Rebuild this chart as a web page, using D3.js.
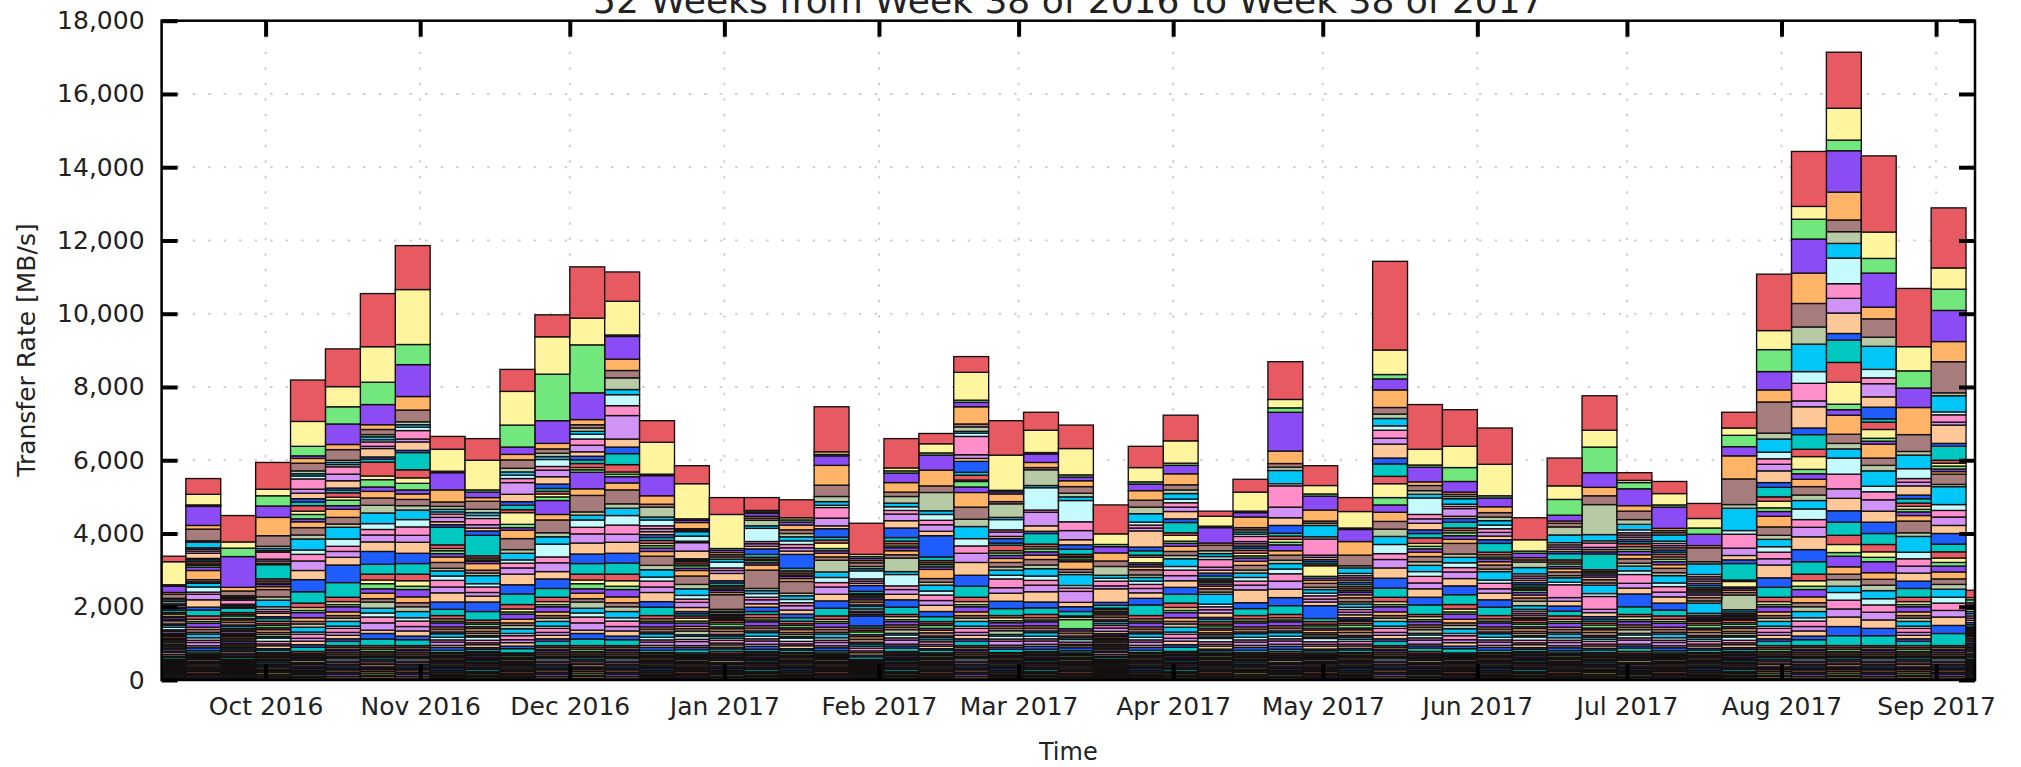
<!DOCTYPE html>
<html>
<head>
<meta charset="utf-8">
<script src="https://cdn.jsdelivr.net/npm/d3@7"></script>
<style>
  html, body { margin: 0; padding: 0; background: #ffffff; }
  svg { display: block; }
  text { font-family: "DejaVu Sans", "Liberation Sans", sans-serif; fill: #222; }
</style>
</head>
<body>
<svg id="chart" width="2021" height="767"></svg>
<script>
// ---- chart data -------------------------------------------------------
const chartTitle = "52 Weeks from Week 38 of 2016 to Week 38 of 2017";
const yLabel = "Transfer Rate [MB/s]";
const xLabel = "Time";
const yTickValues = [0, 2000, 4000, 6000, 8000, 10000, 12000, 14000, 16000, 18000];
const monthTicks = ["2016-10-01", "2016-11-01", "2016-12-01", "2017-01-01", "2017-02-01", "2017-03-01",
                    "2017-04-01", "2017-05-01", "2017-06-01", "2017-07-01", "2017-08-01", "2017-09-01"];

// bar start dates (one bar per week)
const weekStarts = [
  "2016-09-08", "2016-09-15", "2016-09-22", "2016-09-29", "2016-10-06", "2016-10-13", "2016-10-20", "2016-10-27",
  "2016-11-03", "2016-11-10", "2016-11-17", "2016-11-24", "2016-12-01", "2016-12-08", "2016-12-15", "2016-12-22",
  "2016-12-29", "2017-01-05", "2017-01-12", "2017-01-19", "2017-01-26", "2017-02-02", "2017-02-09", "2017-02-16",
  "2017-02-23", "2017-03-02", "2017-03-09", "2017-03-16", "2017-03-23", "2017-03-30", "2017-04-06", "2017-04-13",
  "2017-04-20", "2017-04-27", "2017-05-04", "2017-05-11", "2017-05-18", "2017-05-25", "2017-06-01", "2017-06-08",
  "2017-06-15", "2017-06-22", "2017-06-29", "2017-07-06", "2017-07-13", "2017-07-20", "2017-07-27", "2017-08-03",
  "2017-08-10", "2017-08-17", "2017-08-24", "2017-08-31", "2017-09-07"
];

// per-week transfer rates of each destination, largest destination first (MB/s)
const week00 = [150,630,40,170,50,110,40,50,60,40,50,40,50,60, 40,60,30,50,40,90,30,60,70,40,50,35,30,30, 50,35,40,45,50,40,45,35,50,40,55,45,40,50, 30,25,35,30,25,30,20,35,25,30,30,25,35,30,25,30,20,30,25,30];
const week01 = [430,290,40,520,100,320,40,150,40,50,60,140,40,50, 60,40,50,90,250,60,40,100,140,60,150,200,80,160, 90,60,50,110,60,80,45,100,70,60,90,55,80,60, 45,30,35,40,30,50,35,30,40,45,30,35,40,25,50,30,35,45,30,40];
const week02 = [720,170,230,840,100,130,40,40,40,110,40,40,30,120, 50,40,70,40,60,80,40,60,40,30,50,40,25,30, 50,40,45,55,40,50,35,45,40,50,45,40,35,50, 30,25,35,30,25,30,20,35,25,30,30,25,35,30,25,30,20,30,25,30];
const week03 = [730,180,280,310,500,290,60,60,40,190,50,60,40,390, 60,50,40,60,80,200,90,180,70,60,50,90,50,75, 70,45,65,50,75,55,60,40,90,70,50,80,45,60, 40,30,40,35,45,30,40,50,35,30,40,45,25,35,30,50,40,30,45,35];
const week04 = [1130,680,260,70,130,210,80,60,80,280,110,150,90,100, 150,90,120,80,160,200,110,300,120,180,260,250,330,310, 120,80,60,140,100,70,90,130,60,110,80,95,70,115, 50,40,35,45,30,40,55,30,35,45,40,30,50,35,40,30,45,35,40,30];
const week05 = [1030,550,470,560,140,290,60,60,60,200,180,200,60,70, 120,80,150,100,220,180,90,320,200,140,160,210,480,400, 120,80,60,140,100,70,90,130,60,110,80,95,70,115, 45,50,40,55,45,50,35,40,60,45,50,40,55,35,45,50,40,60,45,55];
const week06 = [1450,970,610,550,130,140,60,80,60,120,60,230,60,80, 380,100,200,120,180,200,210,290,160,150,190,260,350,270, 160,100,140,120,150,90,170,130,110,160,200,90,150,180, 55,45,60,40,50,45,35,55,40,50,45,60,40,35,50,45,55,40,50,45];
const week07 = [1200,1500,550,870,370,320,80,70,90,230,80,230,60,470, 220,150,180,110,150,170,120,260,200,230,190,300,280,290, 180,150,90,200,160,110,130,170,90,150,120,140,100,160, 45,50,40,55,45,50,35,40,60,45,50,40,55,35,45,50,40,60,45,55];
const week08 = [350,600,40,470,330,120,80,70,60,90,120,80,70,480, 100,60,80,90,150,160,70,140,120,180,160,250,200,170, 90,60,50,110,60,80,45,100,70,60,90,55,80,60, 35,45,30,40,50,30,35,25,45,40,30,35,50,40,30,45,35,40,30,40];
const week09 = [590,810,60,150,100,220,90,80,80,170,90,80,120,560, 60,50,40,60,180,80,70,220,90,150,100,160,260,235, 70,45,65,50,75,55,60,40,90,70,50,80,45,60, 30,40,35,45,30,40,35,50,30,40,45,35,30,55,40,30,45,35,40,50];
const week10 = [600,920,600,200,150,230,100,90,90,110,320,200,100,120, 80,320,90,70,230,300,100,180,90,130,170,290,250,290, 120,80,60,140,100,70,90,130,60,110,80,95,70,115, 40,30,45,35,30,50,25,40,35,30,45,40,30,35,50,30,40,35,30,45];
const week11 = [600,1020,1270,620,150,120,90,80,190,100,180,200,120,80, 70,80,100,380,150,350,110,200,350,160,240,200,260,240, 120,80,60,140,100,70,90,130,60,110,80,95,70,115, 45,50,40,55,45,50,35,40,60,45,50,40,55,35,45,50,40,60,45,55];
const week12 = [1400,730,1310,730,140,90,90,80,130,170,180,120,100,100, 110,60,70,450,180,450,90,130,200,180,250,300,260,290, 160,100,140,120,150,90,170,130,110,160,200,90,150,180, 55,45,60,40,50,45,35,55,40,50,45,60,40,35,50,45,55,40,50,45];
const week13 = [800,920,40,620,310,200,320,140,300,270,640,220,180,300, 200,60,70,170,190,380,120,200,260,250,220,300,270,300, 180,150,90,200,160,110,130,170,90,150,120,140,100,160, 45,50,40,55,45,50,35,40,60,45,50,40,55,35,45,50,40,60,45,55];
const week14 = [590,870,40,550,230,80,270,80,160,80,80,80,80,80, 80,60,70,90,130,250,120,200,110,160,150,250,150,230, 90,60,50,110,60,80,45,100,70,60,90,55,80,60, 35,45,30,40,50,30,35,25,45,40,30,35,50,40,30,45,35,40,30,40];
const week15 = [490,960,40,60,170,40,40,120,140,40,230,210,40,40, 60,50,70,60,150,230,120,180,100,90,140,110,60,60, 60,80,55,90,60,70,100,45,80,60,110,50,60,90, 45,30,35,40,30,50,35,30,40,45,30,35,40,25,50,30,35,45,30,40];
const week16 = [460,930,50,60,60,60,60,80,160,70,80,200,60,70, 40,50,40,60,60,400,50,40,50,35,40,30,25,25, 60,45,80,50,70,90,40,60,55,75,50,65,45,70, 50,40,35,45,30,40,55,30,35,45,40,30,50,35,40,30,45,35,40,30];
const week17 = [350,40,40,80,50,60,150,70,360,60,70,70,150,80, 50,40,60,60,140,500,60,80,100,70,110,90,120,80, 90,60,50,110,60,80,45,100,70,60,90,55,80,60, 30,40,35,45,30,40,35,50,30,40,45,35,30,55,40,30,45,35,40,50];
const week18 = [490,60,60,80,130,100,90,110,100,90,90,90,380,70, 60,50,40,60,80,320,70,100,90,80,120,110,100,95, 70,45,65,50,75,55,60,40,90,70,50,80,45,60, 35,45,30,40,50,30,35,25,45,40,30,35,50,40,30,45,35,40,30,40];
const week19 = [1230,70,40,260,540,310,140,100,60,290,210,80,230,80, 80,150,60,70,100,90,320,150,140,120,200,180,200,210, 90,60,50,110,60,80,45,100,70,60,90,55,80,60, 45,30,35,40,30,50,35,30,40,45,30,35,40,25,50,30,35,45,30,40];
const week20 = [850,60,50,60,60,100,60,60,220,60,60,60,160,60, 30,40,45,55,60,80,40,70,60,40,50,40,270,60, 60,45,80,50,70,90,40,60,55,75,50,65,45,70, 30,25,35,30,25,30,20,35,25,30,30,25,35,30,25,30,20,30,25,30];
const week21 = [800,80,60,260,260,120,180,100,100,100,180,200,260,100, 70,60,50,80,110,90,370,80,310,100,130,150,200,200, 60,80,55,90,60,70,100,45,80,60,110,50,60,90, 30,40,35,45,30,40,35,50,30,40,45,35,30,55,40,30,45,35,40,50];
const week22 = [280,250,60,410,430,180,500,100,160,120,180,120,580,100, 60,50,60,70,250,100,80,160,110,150,130,170,140,135, 60,45,80,50,70,90,40,60,55,75,50,65,45,70, 40,30,45,35,30,50,25,40,35,30,45,40,30,35,50,30,40,35,30,45];
const week23 = [430,760,60,120,470,80,120,50,90,500,100,80,300,80, 130,40,150,150,400,330,200,330,200,200,250,350,300,300, 120,80,60,140,100,70,90,130,60,110,80,95,70,115, 45,50,40,55,45,50,35,40,60,45,50,40,55,35,45,50,40,60,45,55];
const week24 = [940,960,40,60,210,60,370,60,280,60,120,60,120,60, 150,60,70,80,110,120,90,140,100,240,150,220,200,190, 60,80,55,90,60,70,100,45,80,60,110,50,60,90, 35,45,30,40,50,30,35,25,45,40,30,35,50,40,30,45,35,40,30,40];
const week25 = [490,610,40,230,140,60,430,60,610,60,370,150,60,290, 70,60,80,90,120,150,100,200,120,130,180,280,160,180, 90,60,50,110,60,80,45,100,70,60,90,55,80,60, 30,40,35,45,30,40,35,50,30,40,45,35,30,55,40,30,45,35,40,50];
const week26 = [640,720,60,100,160,180,100,100,580,240,250,140,120,140, 50,40,60,50,210,80,60,300,70,90,300,120,130,120, 40,60,250,60,60,80,45,50,70,60,40,55,80,60, 40,30,45,35,30,50,25,40,35,30,45,40,30,35,50,30,40,35,30,45];
const week27 = [790,290,60,170,220,150,240,80,80,130,80,370,80,80, 40,50,40,50,60,80,40,60,50,70,90,60,45,40, 50,35,40,45,50,40,45,35,50,40,55,45,40,50, 30,25,30,20,30,25,30,35,25,30,30,25,35,20,30,25,30,35,25,30];
const week28 = [580,390,60,180,260,190,180,230,80,80,80,440,100,120, 60,150,50,60,80,140,70,100,90,110,120,150,180,290, 90,60,50,110,60,80,45,100,70,60,90,55,80,60, 35,45,30,40,50,30,35,25,45,40,30,35,50,40,30,45,35,40,30,40];
const week29 = [700,610,60,230,300,140,100,150,100,120,120,200,100,280, 70,160,60,80,140,110,90,210,100,150,140,180,190,240, 120,80,60,140,100,70,90,130,60,110,80,95,70,115, 30,40,35,45,30,40,35,50,30,40,45,35,30,55,40,30,45,35,40,50];
const week30 = [140,270,40,420,60,150,80,80,80,210,80,80,80,80, 50,40,50,60,70,90,60,270,70,80,90,120,50,65, 70,45,65,50,75,55,60,40,90,70,50,80,45,60, 40,30,45,35,30,50,25,40,35,30,45,40,30,35,50,30,40,35,30,45];
const week31 = [350,520,40,120,290,60,60,60,60,140,60,60,60,60, 80,70,60,90,110,130,80,120,100,110,130,350,160,190, 90,60,50,110,60,80,45,100,70,60,90,55,80,60, 40,30,40,35,45,30,40,50,35,30,40,45,25,35,30,50,40,30,45,35];
const week32 = [1030,230,120,1060,340,100,90,360,60,580,290,210,210,80, 90,80,70,160,120,140,90,150,130,200,220,230,220,240, 90,60,50,110,60,80,45,100,70,60,90,55,80,60, 50,40,35,45,30,40,55,30,35,45,40,30,50,35,40,30,45,35,40,30];
const week33 = [540,230,60,380,300,60,60,310,60,440,60,60,60,60, 50,290,50,60,80,110,60,100,70,90,80,100,350,85, 70,45,65,50,75,55,60,40,90,70,50,80,45,60, 45,30,35,40,30,50,35,30,40,45,30,35,40,25,50,30,35,45,30,40];
const week34 = [380,450,40,330,370,290,60,150,60,60,60,60,60,60, 60,50,45,70,80,110,60,90,60,75,70,80,55,40, 60,45,80,50,70,90,40,60,55,75,50,65,45,70, 35,45,30,40,50,30,35,25,45,40,30,35,50,40,30,45,35,40,30,40];
const week35 = [2420,670,120,300,480,180,120,200,120,220,160,380,160,340, 200,380,200,200,250,210,200,220,250,160,230,280,270,250, 120,80,60,140,100,70,90,130,60,110,80,95,70,115, 45,50,40,55,45,50,35,40,60,45,50,40,55,35,45,50,40,60,45,55];
const week36 = [1220,430,60,400,100,140,100,100,450,120,120,180,100,120, 150,80,70,90,120,140,100,170,130,180,160,230,210,260, 60,80,55,90,60,70,100,45,80,60,110,50,60,90, 50,40,35,45,30,40,55,30,35,45,40,30,50,35,40,30,45,35,40,30];
const week37 = [1000,580,380,290,60,60,60,150,60,60,210,60,100,160, 70,60,80,100,110,290,90,150,130,120,180,200,240,270, 120,80,60,140,100,70,90,130,60,110,80,95,70,115, 45,30,35,40,30,50,35,30,40,45,30,35,40,25,50,30,35,45,30,40];
const week38 = [990,860,60,240,160,120,100,120,100,100,100,100,100,240, 70,60,50,80,90,110,70,230,90,150,120,180,200,230, 90,60,50,110,60,80,45,100,70,60,90,55,80,60, 35,45,30,40,50,30,35,25,45,40,30,35,50,40,30,45,35,40,30,40];
const week39 = [600,310,60,120,60,60,150,170,60,60,60,60,60,60, 50,40,60,70,80,90,120,100,50,60,50,55,40,40, 70,45,65,50,75,55,60,40,90,70,50,80,45,60, 30,40,35,45,30,40,35,50,30,40,45,35,30,55,40,30,45,35,40,50];
const week40 = [760,370,430,160,60,100,220,210,60,60,60,60,60,170, 60,50,70,60,90,100,60,120,70,350,100,130,140,130, 90,60,50,110,60,80,45,100,70,60,90,55,80,60, 40,30,45,35,30,50,25,40,35,30,45,40,30,35,50,30,40,35,30,45];
const week41 = [940,460,700,400,230,240,820,170,60,120,60,60,60,430, 50,40,50,60,70,90,60,230,80,350,90,110,70,55, 60,45,80,50,70,90,40,60,55,75,50,65,45,70, 40,30,40,35,45,30,40,50,35,30,40,45,25,35,30,50,40,30,45,35];
const week42 = [210,60,170,460,150,230,130,150,80,60,60,60,60,60, 80,70,60,90,110,120,80,130,100,240,130,160,350,210, 60,80,55,90,60,70,100,45,80,60,110,50,60,90, 50,40,35,45,30,40,55,30,35,45,40,30,50,35,40,30,45,35,40,30];
const week43 = [330,310,60,580,60,60,60,170,60,60,60,60,60,60, 70,60,70,80,100,120,80,200,100,150,130,170,190,160, 90,60,50,110,60,80,45,100,70,60,90,55,80,60, 45,30,35,40,30,50,35,30,40,45,30,35,40,25,50,30,35,45,30,40];
const week44 = [410,260,170,310,60,380,60,290,60,60,60,60,60,60, 50,40,50,60,70,90,60,280,50,45,40,30,25,25, 60,45,80,50,70,90,40,60,55,75,50,65,45,70, 35,45,30,40,50,30,35,25,45,40,30,35,50,40,30,45,35,40,30,40];
const week45 = [430,200,310,250,630,700,100,610,100,380,200,120,100,450, 40,150,40,50,60,70,400,60,50,40,35,40,30,30, 70,45,65,50,75,55,60,40,90,70,50,80,45,60, 30,40,35,45,30,40,35,50,30,40,45,35,30,55,40,30,45,35,40,50];
const week46 = [1540,520,600,500,330,850,160,360,180,150,180,320,130,260, 120,180,100,130,290,230,110,200,150,180,170,350,260,270, 120,80,60,140,100,70,90,130,60,110,80,95,70,115, 55,45,60,40,50,45,35,55,40,50,45,60,40,35,50,45,55,40,50,45];
const week47 = [1500,350,540,930,830,640,470,750,320,480,160,580,180,400, 200,350,120,150,200,230,150,230,290,210,260,350,330,340, 180,150,90,200,160,110,130,170,90,150,120,140,100,160, 45,50,40,55,45,50,35,40,60,45,50,40,55,35,45,50,40,60,45,55];
const week48 = [1530,870,290,1130,760,320,320,400,700,400,400,560,180,610, 540,600,150,150,520,250,150,250,440,400,260,340,310,360, 250,220,100,290,200,150,180,170,210,240,220,260,250,270, 55,45,60,40,50,45,35,55,40,50,45,60,40,35,50,45,55,40,50,45];
const week49 = [2080,720,400,930,320,500,250,630,230,160,360,280,320,90, 200,240,80,80,380,200,150,420,150,220,310,300,310,300, 200,150,120,300,180,160,150,220,170,200,210,230,200,270, 45,50,40,55,45,50,35,40,60,45,50,40,55,35,45,50,40,60,45,55];
const week50 = [1590,660,470,530,740,460,100,370,270,100,100,250,100,120, 90,80,70,100,150,320,100,430,180,200,190,220,200,240, 120,80,60,140,100,70,90,130,60,110,80,95,70,115, 55,45,60,40,50,45,35,55,40,50,45,60,40,35,50,45,55,40,50,45];
const week51 = [1640,580,580,850,550,850,80,440,80,200,80,500,80,380, 80,80,80,70,70,280,60,490,160,180,230,220,290,210, 170,120,100,160,190,150,130,220,160,200,180,230,220,330, 45,50,40,55,45,50,35,40,60,45,50,40,55,35,45,50,40,60,45,55];
const week52 = [200,60,80,60,60,60,60,60,60,60,60,60,60,60, 20,20,15,20,15,25,20,20,15,20,20,20,15,20, 50,40,45,55,40,50,35,45,40,50,45,40,35,50, 30,25,35,30,25,30,20,35,25,30,30,25,35,30,25,30,20,30,25,30];

const weeklyValues = [week00, week01, week02, week03, week04, week05, week06, week07, week08, week09,
  week10, week11, week12, week13, week14, week15, week16, week17, week18, week19,
  week20, week21, week22, week23, week24, week25, week26, week27, week28, week29,
  week30, week31, week32, week33, week34, week35, week36, week37, week38, week39,
  week40, week41, week42, week43, week44, week45, week46, week47, week48, week49,
  week50, week51, week52];

// ---- styling ----------------------------------------------------------
const palette = ["#e85a61", "#fff59f", "#72e77d", "#8b4bf5", "#ffb468", "#a67c7c", "#b6caa6",
                 "#00c7f7", "#c5fbff", "#ff8fcb", "#d193f5", "#ffc899", "#1f5dfe", "#00c8c1"];

const W = 2021, H = 767;
const plot = { left: 161.6, right: 1975, top: 20.7, bottom: 680 };

const svg = d3.select("#chart");
const parse = d3.utcParse("%Y-%m-%d");
const DAY = 86400000;

const x = d3.scaleUtc()
  .domain([new Date(Date.UTC(2016, 8, 10, 3, 26)), new Date(Date.UTC(2017, 8, 8, 19, 12))])
  .range([plot.left, plot.right]);
const y = d3.scaleLinear().domain([0, 18000]).range([plot.bottom, plot.top]);

const nSeries = week00.length;
const table = weekStarts.map((d, j) => {
  const row = { start: parse(d) };
  weeklyValues[j].forEach((v, i) => { row["s" + i] = v; });
  return row;
});
// largest destination sits on top, so stacking starts from the last one
const keys = d3.range(nSeries).map(i => "s" + i).reverse();
const layers = d3.stack().keys(keys)(table);

svg.append("defs").append("clipPath").attr("id", "plotClip")
  .append("rect")
  .attr("x", plot.left).attr("y", plot.top - 2)
  .attr("width", plot.right - plot.left).attr("height", plot.bottom - plot.top + 2);

// dotted grid
const monthDates = monthTicks.map(parse);
const grid = svg.append("g").attr("class", "grid")
  .attr("stroke", "#cfcfcf").attr("stroke-width", 2).attr("stroke-dasharray", "2.5,13");
grid.selectAll("line.h").data(yTickValues.slice(1, -1)).join("line")
  .attr("x1", plot.left).attr("x2", plot.right)
  .attr("y1", d => y(d)).attr("y2", d => y(d));
grid.selectAll("line.v").data(monthDates).join("line")
  .attr("y1", plot.top).attr("y2", plot.bottom)
  .attr("x1", d => x(d)).attr("x2", d => x(d));

// stacked bars
const bars = svg.append("g").attr("clip-path", "url(#plotClip)");
bars.selectAll("g.layer").data(layers).join("g")
  .attr("class", "layer")
  .attr("fill", d => palette[(+d.key.slice(1)) % palette.length])
  .selectAll("rect").data(d => d).join("rect")
  .attr("x", d => x(d.data.start))
  .attr("width", d => x(new Date(+d.data.start + 7 * DAY)) - x(d.data.start))
  .attr("y", d => y(d[1]))
  .attr("height", d => y(d[0]) - y(d[1]))
  .attr("stroke", "#141010")
  .attr("stroke-width", 1.35);

// axes with inward ticks on all four sides
const tickLen = 16;
function styleAxis(g) {
  g.select(".domain").remove();
  g.selectAll(".tick line").attr("stroke", "#000").attr("stroke-width", 4);
  g.selectAll(".tick text").attr("font-family", "DejaVu Sans").attr("font-size", 25).attr("fill", "#222");
}
svg.append("g").attr("transform", `translate(0,${plot.bottom})`)
  .call(d3.axisBottom(x).tickValues(monthDates).tickFormat(d3.utcFormat("%b %Y"))
    .tickSizeInner(-tickLen).tickSizeOuter(0).tickPadding(17))
  .call(styleAxis);
svg.append("g").attr("transform", `translate(0,${plot.top})`)
  .call(d3.axisTop(x).tickValues(monthDates).tickFormat("")
    .tickSizeInner(-tickLen).tickSizeOuter(0))
  .call(styleAxis);
svg.append("g").attr("transform", `translate(${plot.left},0)`)
  .call(d3.axisLeft(y).tickValues(yTickValues).tickFormat(d3.format(","))
    .tickSizeInner(-tickLen).tickSizeOuter(0).tickPadding(17))
  .call(styleAxis);
svg.append("g").attr("transform", `translate(${plot.right},0)`)
  .call(d3.axisRight(y).tickValues(yTickValues).tickFormat("")
    .tickSizeInner(-tickLen).tickSizeOuter(0))
  .call(styleAxis);

// frame
svg.append("rect")
  .attr("x", plot.left).attr("y", plot.top)
  .attr("width", plot.right - plot.left).attr("height", plot.bottom - plot.top)
  .attr("fill", "none").attr("stroke", "#000").attr("stroke-width", 2.5);

// titles
svg.append("text")
  .attr("x", (plot.left + plot.right) / 2).attr("y", 13)
  .attr("text-anchor", "middle").attr("font-size", 36)
  .text(chartTitle);
svg.append("text")
  .attr("x", (plot.left + plot.right) / 2).attr("y", 760)
  .attr("text-anchor", "middle").attr("font-size", 24)
  .text(xLabel);
svg.append("text")
  .attr("transform", `translate(35,350) rotate(-90)`)
  .attr("text-anchor", "middle").attr("font-size", 25)
  .text(yLabel);
</script>
</body>
</html>
